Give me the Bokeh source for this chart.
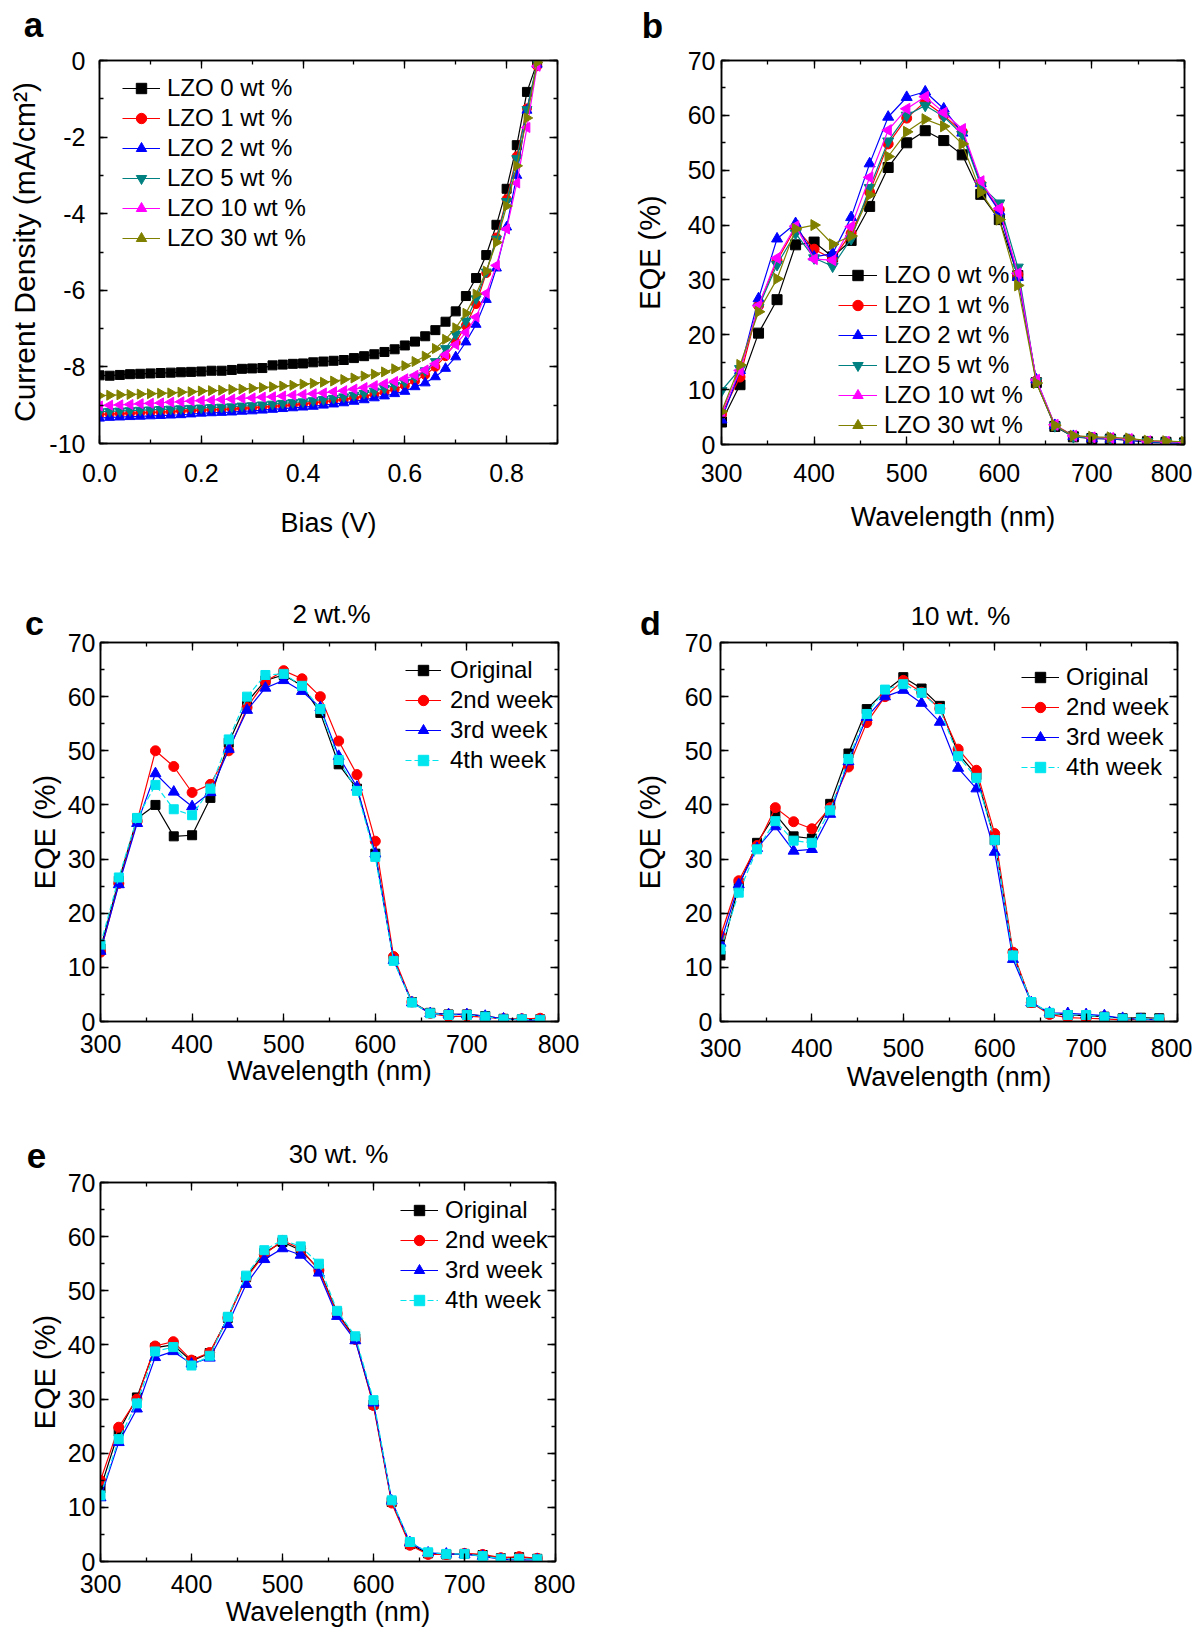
from bokeh.plotting import figure
from bokeh.models import (LinearAxis, SingleIntervalTicker, Range1d, Legend,
                          LegendItem, PrintfTickFormatter, CustomJSTickFormatter)
from bokeh.core.properties import value
from bokeh.layouts import column, row
from bokeh.embed import file_html
from bokeh.resources import INLINE
import math

FONT = "Liberation Sans"

# ---------------- Panel a: J-V curves ----------------
bias = [0.00, 0.02, 0.04, 0.06, 0.08, 0.10, 0.12, 0.14, 0.16, 0.18, 0.20, 0.22,
        0.24, 0.26, 0.28, 0.30, 0.32, 0.34, 0.36, 0.38, 0.40, 0.42, 0.44, 0.46,
        0.48, 0.50, 0.52, 0.54, 0.56, 0.58, 0.60, 0.62, 0.64, 0.66, 0.68, 0.70,
        0.72, 0.74, 0.76, 0.78, 0.80, 0.82, 0.84, 0.86]
jv_0 = [-8.22, -8.23, -8.21, -8.19, -8.18, -8.17, -8.16, -8.15, -8.14, -8.13, -8.12, -8.10,
        -8.10, -8.08, -8.05, -8.04, -8.03, -7.96, -7.94, -7.92, -7.91, -7.88, -7.86, -7.84,
        -7.82, -7.77, -7.72, -7.67, -7.61, -7.54, -7.44, -7.34, -7.20, -7.04, -6.82, -6.55,
        -6.15, -5.68, -5.08, -4.29, -3.35, -2.21, -0.82, -0.05]
jv_1 = [-9.24, -9.23, -9.22, -9.21, -9.20, -9.19, -9.18, -9.17, -9.15, -9.14, -9.13, -9.12,
        -9.11, -9.10, -9.08, -9.07, -9.05, -9.03, -9.01, -8.99, -8.97, -8.94, -8.91, -8.88,
        -8.85, -8.81, -8.77, -8.72, -8.66, -8.58, -8.49, -8.37, -8.21, -8.00, -7.72, -7.36,
        -6.92, -6.36, -5.55, -4.62, -3.62, -2.50, -1.25, -0.15]
jv_2 = [-9.34, -9.32, -9.31, -9.30, -9.29, -9.28, -9.27, -9.26, -9.25, -9.23, -9.21, -9.20,
        -9.19, -9.18, -9.16, -9.15, -9.13, -9.11, -9.09, -9.07, -9.05, -9.03, -9.00, -8.97,
        -8.94, -8.90, -8.86, -8.81, -8.76, -8.70, -8.64, -8.52, -8.42, -8.26, -8.04, -7.74,
        -7.35, -6.89, -6.24, -5.42, -4.35, -3.00, -1.30, -0.10]
jv_5 = [-9.17, -9.16, -9.15, -9.14, -9.13, -9.12, -9.11, -9.10, -9.09, -9.08, -9.07, -9.06,
        -9.05, -9.04, -9.02, -9.01, -8.99, -8.97, -8.95, -8.93, -8.91, -8.88, -8.85, -8.82,
        -8.78, -8.74, -8.69, -8.63, -8.56, -8.48, -8.40, -8.27, -8.10, -7.86, -7.52, -7.15,
        -6.80, -6.22, -5.52, -4.66, -3.68, -2.56, -1.28, -0.05]
jv_10 = [-9.02, -9.00, -8.99, -8.98, -8.96, -8.95, -8.94, -8.92, -8.91, -8.89, -8.88, -8.87,
         -8.85, -8.84, -8.82, -8.81, -8.79, -8.78, -8.76, -8.74, -8.72, -8.70, -8.68, -8.65,
         -8.62, -8.58, -8.54, -8.49, -8.44, -8.38, -8.31, -8.22, -8.08, -7.92, -7.68, -7.42,
         -7.10, -6.70, -6.08, -5.35, -4.40, -3.20, -1.75, -0.15]
jv_30 = [-8.75, -8.74, -8.73, -8.72, -8.71, -8.70, -8.69, -8.68, -8.66, -8.65, -8.63, -8.62,
         -8.61, -8.59, -8.58, -8.56, -8.54, -8.52, -8.50, -8.48, -8.45, -8.43, -8.40, -8.37,
         -8.33, -8.29, -8.24, -8.19, -8.13, -8.05, -7.97, -7.86, -7.72, -7.52, -7.28, -6.98,
         -6.60, -6.10, -5.50, -4.75, -3.80, -2.75, -1.50, -0.05]
lzo_labels = ["LZO 0 wt %", "LZO 1 wt %", "LZO 2 wt %", "LZO 5 wt %", "LZO 10 wt %", "LZO 30 wt %"]

# ---------------- Panel b: EQE vs LZO content ----------------
wl_b = [300, 320, 340, 360, 380, 400, 420, 440, 460, 480, 500, 520, 540,
        560, 580, 600, 620, 640, 660, 680, 700, 720, 740, 760, 780, 800]
eqe_0 = [4.1, 10.9, 20.3, 26.4, 36.4, 36.9, 34.2, 37.2, 43.4, 50.5, 55.0, 57.2, 55.4,
         52.8, 45.6, 41.0, 30.8, 11.3, 3.3, 1.4, 1.1, 1.0, 0.8, 0.5, 0.4, 0.3]
eqe_1 = [5.5, 12.3, 25.3, 33.5, 39.5, 35.6, 33.8, 38.5, 46.0, 54.8, 59.5, 62.5, 60.0,
         57.0, 47.5, 42.8, 31.0, 11.6, 3.5, 1.5, 1.2, 1.1, 0.9, 0.5, 0.4, 0.3]
eqe_2 = [4.5, 13.5, 26.6, 37.5, 40.3, 34.2, 34.8, 41.4, 51.2, 59.7, 63.3, 64.3, 61.2,
         56.8, 47.6, 42.5, 30.5, 11.8, 3.5, 1.5, 1.1, 1.0, 0.8, 0.4, 0.3, 0.2]
eqe_5 = [9.8, 13.8, 25.0, 32.8, 38.5, 34.0, 32.5, 37.5, 46.8, 55.3, 60.0, 61.8, 59.8,
         56.5, 47.2, 44.0, 32.3, 11.5, 3.4, 1.4, 1.2, 1.1, 0.9, 0.5, 0.4, 0.3]
eqe_10 = [5.8, 13.5, 25.3, 34.0, 39.8, 33.8, 33.6, 39.7, 48.7, 57.3, 61.2, 63.4, 60.5,
          57.5, 48.0, 43.0, 31.2, 11.8, 3.6, 1.6, 1.3, 1.2, 1.0, 0.6, 0.5, 0.4]
eqe_30 = [6.0, 14.5, 24.2, 30.2, 39.3, 40.0, 36.5, 38.0, 45.5, 52.5, 57.0, 59.3, 58.0,
          54.8, 46.0, 41.0, 29.0, 11.2, 3.5, 1.6, 1.4, 1.3, 1.1, 0.7, 0.6, 0.5]

# ---------------- Panels c-e: stability ----------------
wl = [300, 320, 340, 360, 380, 400, 420, 440, 460, 480, 500, 520, 540,
      560, 580, 600, 620, 640, 660, 680, 700, 720, 740, 760, 780]
week_labels = ["Original", "2nd week", "3rd week", "4th week"]

c_orig = [13.5, 26.0, 37.5, 40.0, 34.2, 34.4, 41.3, 51.5, 59.0, 63.0, 64.0, 62.0, 57.0,
          47.5, 43.0, 31.0, 11.5, 3.6, 1.6, 1.3, 1.3, 1.0, 0.5, 0.4, 0.4]
c_w2 = [12.8, 25.5, 37.0, 50.0, 47.1, 42.3, 43.8, 50.0, 58.0, 62.8, 64.8, 63.3, 60.0,
        51.8, 45.6, 33.3, 12.0, 3.6, 1.5, 0.9, 1.0, 0.8, 0.5, 0.5, 0.6]
c_w3 = [13.0, 25.3, 36.6, 45.8, 42.4, 39.7, 42.3, 50.3, 57.5, 61.6, 63.0, 61.0, 58.0,
        49.0, 43.3, 31.0, 11.3, 3.5, 1.5, 1.3, 1.3, 1.0, 0.5, 0.3, 0.2]
c_w4 = [14.2, 26.6, 37.6, 43.7, 39.2, 38.1, 43.0, 52.1, 60.0, 64.0, 64.2, 62.0, 57.7,
        48.3, 42.6, 30.4, 11.2, 3.5, 1.5, 1.2, 1.2, 0.9, 0.4, 0.4, 0.3]

d_orig = [12.2, 25.0, 33.0, 38.3, 34.2, 33.8, 40.2, 49.5, 57.7, 61.0, 63.6, 61.5, 58.3,
          49.5, 45.5, 33.5, 12.5, 3.5, 1.5, 1.2, 1.1, 0.9, 0.6, 0.7, 0.6]
d_w2 = [15.8, 26.0, 32.5, 39.5, 36.9, 35.6, 39.5, 47.0, 55.2, 60.0, 63.0, 60.8, 57.8,
        50.3, 46.4, 34.7, 12.8, 3.5, 1.3, 0.7, 0.6, 0.5, 0.3, 0.4, 0.4]
d_w3 = [14.5, 25.3, 32.0, 36.0, 31.5, 31.8, 38.3, 48.0, 56.2, 60.0, 61.2, 58.8, 55.3,
        46.8, 43.0, 31.3, 11.5, 3.5, 1.6, 1.5, 1.3, 1.1, 0.6, 0.4, 0.3]
d_w4 = [13.3, 23.8, 31.8, 37.0, 33.4, 33.0, 39.0, 48.5, 56.8, 61.3, 62.3, 60.7, 57.7,
        49.0, 45.0, 33.5, 12.2, 3.6, 1.6, 1.2, 1.2, 0.8, 0.5, 0.5, 0.4]

e_orig = [13.5, 24.0, 30.3, 39.5, 40.0, 37.0, 38.5, 45.0, 52.5, 57.0, 59.0, 57.5, 54.0,
          46.0, 41.2, 29.0, 11.0, 3.2, 1.5, 1.3, 1.4, 1.2, 0.6, 0.8, 0.5]
e_w2 = [15.0, 24.8, 30.0, 39.8, 40.6, 37.2, 38.6, 45.0, 52.3, 56.7, 59.3, 57.8, 53.8,
        45.8, 41.0, 28.8, 10.8, 3.0, 1.3, 1.3, 1.5, 1.3, 0.7, 0.9, 0.6]
e_w3 = [11.8, 22.0, 28.2, 37.7, 38.8, 36.5, 37.6, 43.8, 51.2, 55.8, 57.8, 56.6, 53.3,
        45.3, 40.8, 29.3, 11.2, 3.5, 1.6, 1.4, 1.3, 1.0, 0.4, 0.3, 0.3]
e_w4 = [12.2, 22.6, 29.2, 38.8, 39.6, 36.2, 38.0, 45.2, 52.8, 57.5, 59.4, 58.2, 55.0,
        46.3, 41.6, 29.8, 11.3, 3.6, 1.7, 1.4, 1.4, 1.0, 0.5, 0.5, 0.4]

# panel letters and titles
letters = ["a", "b", "c", "d", "e"]
titles = ["2 wt.%", "10 wt. %", "30 wt. %"]

# ---------------- styles ----------------
LZO_STYLE = [
    dict(color="#000000", marker="square", angle=0.0, size=9),
    dict(color="#ff0000", marker="circle", angle=0.0, size=9),
    dict(color="#0000ff", marker="triangle", angle=0.0, size=10),
    dict(color="#008080", marker="inverted_triangle", angle=0.0, size=10),
    dict(color="#ff00ff", marker="triangle", angle=math.pi / 2, size=10),
    dict(color="#808000", marker="triangle", angle=-math.pi / 2, size=10),
]
WEEK_STYLE = [
    dict(color="#000000", marker="square", dash="solid", size=9),
    dict(color="#ff0000", marker="circle", dash="solid", size=10),
    dict(color="#0000ff", marker="triangle", dash="solid", size=11),
    dict(color="#00e5ee", marker="square", dash="6 3", size=9),
]

BLANK = CustomJSTickFormatter(code="return ''")


def style_axis(ax, ticker, labels=True, tick_fs="25px", standoff=10,
               label=None, label_fs="27px", label_standoff=10, fmt=None):
    ax.ticker = ticker
    ax.axis_line_color = "black"
    ax.axis_line_width = 1.5
    ax.major_tick_in = 8
    ax.major_tick_out = 0
    ax.minor_tick_in = 4
    ax.minor_tick_out = 0
    ax.major_tick_line_width = 1.3
    ax.minor_tick_line_width = 1.3
    ax.major_tick_line_color = "black"
    ax.minor_tick_line_color = "black"
    ax.major_label_text_font = FONT
    ax.major_label_text_color = "black"
    if labels:
        ax.major_label_text_font_size = tick_fs
        if fmt is not None:
            ax.formatter = fmt
        ax.major_label_standoff = standoff
    else:
        # tick marks only (frame box ticks), labels left empty
        ax.major_label_text_font_size = "1px"
        ax.formatter = BLANK
        ax.major_label_standoff = 0
    if label:
        ax.axis_label = label
        ax.axis_label_text_font = FONT
        ax.axis_label_text_font_size = label_fs
        ax.axis_label_text_font_style = "normal"
        ax.axis_label_text_color = "black"
        ax.axis_label_standoff = label_standoff


def make_fig(fw, fh, bl, br, bt, bb, xr, yr, xint, yint, xlabel, ylabel,
             xfmt=None, yfmt=None, x_standoff=10, xl_standoff=10,
             y_standoff=10, yl_standoff=10, ylabel_fs="29px"):
    p = figure(frame_width=fw, frame_height=fh, min_border_left=bl, min_border_right=br,
               min_border_top=bt, min_border_bottom=bb,
               x_range=Range1d(*xr), y_range=Range1d(*yr),
               output_backend="svg", toolbar_location=None, tools="")
    p.xgrid.visible = False
    p.ygrid.visible = False
    p.outline_line_color = "black"
    p.outline_line_width = 1.5
    p.outline_line_alpha = 1.0
    p.background_fill_color = "white"
    p.border_fill_alpha = 0.0
    style_axis(p.xaxis[0], SingleIntervalTicker(interval=xint, num_minor_ticks=2),
               True, "25px", x_standoff, xlabel, "27px", xl_standoff, xfmt)
    style_axis(p.yaxis[0], SingleIntervalTicker(interval=yint, num_minor_ticks=2),
               True, "25px", y_standoff, ylabel, ylabel_fs, yl_standoff, yfmt)
    top = LinearAxis()
    style_axis(top, SingleIntervalTicker(interval=xint, num_minor_ticks=2), False)
    p.add_layout(top, "above")
    right = LinearAxis()
    style_axis(right, SingleIntervalTicker(interval=yint, num_minor_ticks=2), False)
    p.add_layout(right, "right")
    return p


def add_legend(p, items, loc, standoff=7, glyph_w=38):
    lg = Legend(items=items, location=loc)
    lg.label_text_font = FONT
    lg.label_text_font_size = "24px"
    lg.label_text_color = "black"
    lg.label_standoff = standoff
    lg.glyph_width = glyph_w
    lg.glyph_height = 26
    lg.label_height = 20
    lg.spacing = 2
    lg.padding = 0
    lg.margin = 0
    lg.border_line_alpha = 0
    lg.background_fill_alpha = 0
    p.add_layout(lg)


HEADER_W = 1192


def header(height, overlap, xs, ys, texts, sizes, styles):
    h = figure(width=HEADER_W, height=height, x_range=Range1d(0, HEADER_W),
               y_range=Range1d(height, 0),
               x_axis_type=None, y_axis_type=None, output_backend="svg",
               toolbar_location=None, tools="", min_border=0)
    h.frame_align = False
    h.min_border_left = 0
    h.min_border_right = 0
    h.min_border_top = 0
    h.min_border_bottom = 0
    h.outline_line_color = None
    h.xgrid.visible = False
    h.ygrid.visible = False
    h.background_fill_alpha = 0.0
    h.border_fill_alpha = 0.0
    if overlap:
        # let the panel row below start a little higher (its border is transparent)
        h.styles = {"margin-bottom": "-%dpx" % overlap}
    for x, y, t, s, st in zip(xs, ys, texts, sizes, styles):
        h.text(x=[x], y=[y], text=[t], text_font=value(FONT), text_font_size=value(s),
               text_font_style=st, text_color="black", text_align="center",
               text_baseline="middle")
    return h


# ---------------- Panel a ----------------
pa = make_fig(458, 383, 99, 64, 12, 147, (0, 0.9), (-10, 0), 0.2, 2,
              "Bias (V)", "Current Density (mA/cm²)",
              xfmt=PrintfTickFormatter(format="%.1f"), yfmt=PrintfTickFormatter(format="%d"),
              x_standoff=20, xl_standoff=23, y_standoff=14, yl_standoff=5, ylabel_fs="30px")
items = []
for ys, lab, st in zip([jv_0, jv_1, jv_2, jv_5, jv_10, jv_30], lzo_labels, LZO_STYLE):
    l = pa.line(bias, ys, line_color=st["color"], line_width=1.2)
    s = pa.scatter(bias, ys, marker=st["marker"], angle=st["angle"], size=st["size"],
                   fill_color=st["color"], line_color=st["color"])
    items.append(LegendItem(label=lab, renderers=[l, s]))
add_legend(pa, items, (23, 191))

# ---------------- Panel b ----------------
pb = make_fig(463, 384, 100, 8, 12, 146, (300, 800), (0, 70), 100, 10,
              "Wavelength (nm)", "EQE (%)", x_standoff=19, xl_standoff=17,
              y_standoff=6, yl_standoff=19)
items = []
for ys, lab, st in zip([eqe_0, eqe_1, eqe_2, eqe_5, eqe_10, eqe_30], lzo_labels, LZO_STYLE):
    l = pb.line(wl_b, ys, line_color=st["color"], line_width=1.2)
    s = pb.scatter(wl_b, ys, marker=st["marker"], angle=st["angle"], size=st["size"] + 1,
                   fill_color=st["color"], line_color=st["color"])
    items.append(LegendItem(label=lab, renderers=[l, s]))
add_legend(pb, items, (117, 5), standoff=7, glyph_w=39)


# ---------------- Panels c, d, e ----------------
def week_panel(p, series, loc, standoff, glyph_w):
    items = []
    for ys, lab, st in zip(series, week_labels, WEEK_STYLE):
        l = p.line(wl, ys, line_color=st["color"], line_width=1.2, line_dash=st["dash"])
        s = p.scatter(wl, ys, marker=st["marker"], size=st["size"],
                      fill_color=st["color"], line_color=st["color"])
        items.append(LegendItem(label=lab, renderers=[l, s]))
    add_legend(p, items, loc, standoff=standoff, glyph_w=glyph_w)


pc = make_fig(458, 379, 100, 63, 13, 109, (300, 800), (0, 70), 100, 10,
              "Wavelength (nm)", "EQE (%)", x_standoff=13, xl_standoff=0,
              y_standoff=5, yl_standoff=4)
week_panel(pc, [c_orig, c_w2, c_w3, c_w4], (305, 247), 9, 36)

pd_ = make_fig(457, 379, 99, 15, 13, 109, (300, 800), (0, 70), 100, 10,
               "Wavelength (nm)", "EQE (%)", x_standoff=17, xl_standoff=2,
               y_standoff=8, yl_standoff=16)
week_panel(pd_, [d_orig, d_w2, d_w3, d_w4], (301, 240), 7, 38)

pe = make_fig(455, 379, 100, 20, 13, 63, (300, 800), (0, 70), 100, 10,
              "Wavelength (nm)", "EQE (%)", x_standoff=13, xl_standoff=1,
              y_standoff=5, yl_standoff=4)
week_panel(pe, [e_orig, e_w2, e_w3, e_w4], (300, 247), 7, 38)

# ---------------- headers (panel letters and titles) ----------------
h1 = header(48, 0, [33, 652], [24, 25], letters[0:2], ["35px", "35px"], ["bold", "bold"])
h2 = header(52, 13, [34, 331, 650, 960], [32, 23, 32.5, 25],
            [letters[2], titles[0], letters[3], titles[1]],
            ["34px", "26px", "34px", "26px"], ["bold", "normal", "bold", "normal"])
h3 = header(48, 9, [36, 338], [25, 23], [letters[4], titles[2]],
            ["35px", "26px"], ["bold", "normal"])

layout = column(h1, row(pa, pb), h2, row(pc, pd_), h3, pe)
open("out.html", "w").write(file_html(layout, INLINE))
